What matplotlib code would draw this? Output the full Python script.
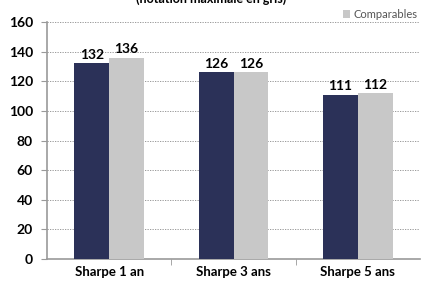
import numpy as np
import matplotlib

matplotlib.use("Agg")
import matplotlib.pyplot as plt

categories = ["Sharpe 1 an", "Sharpe 3 ans", "Sharpe 5 ans"]
fund_values = [132, 126, 111]
comp_values = [136, 126, 112]
yticks = [0, 20, 40, 60, 80, 100, 120, 140, 160]

plt.rcParams["font.family"] = ["Lato", "DejaVu Sans"]

fig = plt.figure(figsize=(4.22, 2.81), dpi=100)
ax = fig.add_axes([47 / 422, 22 / 281, 373 / 422, 237 / 281])

x = np.arange(len(categories))
w = 0.28
ax.bar(x - w / 2, fund_values, w, color="#2b3158", zorder=3)
ax.bar(x + w / 2, comp_values, w, color="#c8c8c8", zorder=3, label="Comparables")

for xi, v in zip(x - w / 2, fund_values):
    ax.text(xi, v + 1.5, str(v), ha="center", va="bottom", fontsize=10, fontweight="bold")
for xi, v in zip(x + w / 2, comp_values):
    ax.text(xi, v + 1.5, str(v), ha="center", va="bottom", fontsize=10, fontweight="bold")

ax.set_xlim(-0.5, 2.5)
ax.set_ylim(0, 160)
ax.set_yticks(yticks)
ax.set_yticklabels([str(t) for t in yticks], fontsize=10, fontweight="bold")
ax.set_xticks(x)
ax.set_xticklabels(categories, fontsize=9.5, fontweight="bold")
ax.set_xticks([0.5, 1.5], minor=True)
ax.tick_params(axis="x", which="major", length=0, pad=5)
ax.tick_params(axis="x", which="minor", length=4, color="#999999", direction="out")
ax.tick_params(axis="y", length=4, color="#999999", direction="out", pad=6)

ax.grid(axis="y", color="#8a8a8a", ls=(0, (1.5, 1.5)), lw=0.6, zorder=0)
for side in ["top", "right"]:
    ax.spines[side].set_visible(False)
for side in ["left", "bottom"]:
    ax.spines[side].set_color("#999999")
    ax.spines[side].set_linewidth(1.2)

ax.legend(loc="lower right", bbox_to_anchor=(1.0, 1.0), frameon=False, fontsize=8,
          handlelength=0.7, handleheight=0.7, handletextpad=0.3, borderpad=0.1,
          borderaxespad=0.1, labelcolor="#555555")

fig.text(0.5, 1.005, "(notation maximale en gris)", ha="center", va="center",
         fontsize=9, fontweight="bold")

plt.savefig("out.png", dpi=100)
plt.close()
